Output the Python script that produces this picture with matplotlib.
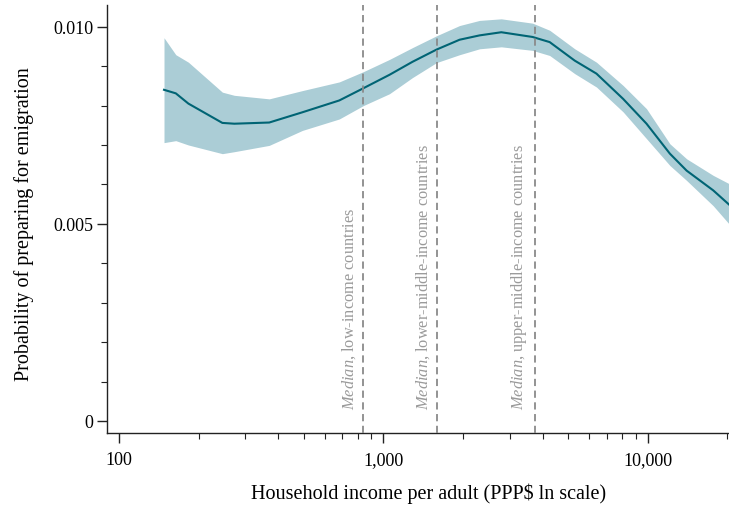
import numpy as np
import matplotlib
matplotlib.use("Agg")
import matplotlib.pyplot as plt
from matplotlib.ticker import FixedLocator, FuncFormatter, NullFormatter

plt.rcParams["font.family"] = ["Liberation Serif", "DejaVu Serif"]
plt.rcParams["mathtext.fontset"] = "custom"
plt.rcParams["mathtext.rm"] = "Liberation Serif"
plt.rcParams["mathtext.it"] = "Liberation Serif:italic"

# Local regression of emigration preparation on household income
income = [148, 164, 183, 246, 273, 370, 494, 681, 840, 1054, 1288, 1588, 1941,
          2310, 2791, 3665, 4253, 5290, 6392, 8062, 9885, 12115, 14015, 17660, 20270]
prob = [0.00840, 0.00831, 0.00805, 0.00756, 0.00754, 0.00757, 0.00783, 0.00813,
        0.00844, 0.00878, 0.00911, 0.00942, 0.00967, 0.00978, 0.00986, 0.00974,
        0.00961, 0.00914, 0.00881, 0.00817, 0.00754, 0.00678, 0.00635, 0.00585,
        0.00549]
upper = [0.00972, 0.00929, 0.00910, 0.00834, 0.00826, 0.00817, 0.00838, 0.00860,
         0.00886, 0.00917, 0.00947, 0.00977, 0.01003, 0.01016, 0.01020, 0.01009,
         0.00991, 0.00944, 0.00910, 0.00851, 0.00792, 0.00703, 0.00665, 0.00623,
         0.00602]
lower = [0.00706, 0.00711, 0.00700, 0.00678, 0.00683, 0.00699, 0.00737, 0.00766,
         0.00800, 0.00830, 0.00871, 0.00909, 0.00929, 0.00944, 0.00949, 0.00940,
         0.00927, 0.00881, 0.00847, 0.00784, 0.00716, 0.00648, 0.00610, 0.00546,
         0.00500]

# Median household income per adult by country income group
median_income = [840, 1597, 3733]
median_groups = ["low-income countries", "lower-middle-income countries",
                 "upper-middle-income countries"]

y_ticks = [0, 0.005, 0.010]
y_tick_labels = ["0", "0.005", "0.010"]
x_ticks = [100, 1000, 10000]
x_tick_labels = ["100", "1,000", "10,000"]

fig = plt.figure(figsize=(7.29, 5.06), dpi=100)
ax = fig.add_axes([0.1468, 0.1423, 0.8532, 0.845])

ax.fill_between(income, lower, upper, color="#abcdd6", linewidth=0, zorder=1)
ax.plot(income, prob, color="#006474", linewidth=1.5, zorder=2)

for xm, grp in zip(median_income, median_groups):
    ax.axvline(xm, color="#8a8a8a", linewidth=1.3, linestyle=(0, (4, 2.5)), zorder=3)
    ax.annotate(r"$\mathit{Median}$, " + grp, xy=(xm, 0.0003), xytext=(-4, 0),
                textcoords="offset points", rotation=90, ha="right", va="bottom",
                color="#9a9a9a", fontsize=11.8)

ax.set_xscale("log")
ax.set_xlim(90.1, 20270)
ax.set_ylim(-0.000305, 0.01054)

ax.xaxis.set_major_locator(FixedLocator(x_ticks))
ax.xaxis.set_major_formatter(FuncFormatter(lambda v, p: x_tick_labels[x_ticks.index(int(round(v)))] if int(round(v)) in x_ticks else ""))
minor_x = [m * d for d in (100, 1000, 10000) for m in range(2, 10)]
ax.xaxis.set_minor_locator(FixedLocator(minor_x))
ax.xaxis.set_minor_formatter(NullFormatter())

ax.yaxis.set_major_locator(FixedLocator(y_ticks))
ax.set_yticklabels(y_tick_labels)
ax.yaxis.set_minor_locator(FixedLocator([i * 0.001 for i in range(0, 11)]))

for s in ("top", "right"):
    ax.spines[s].set_visible(False)
for s in ("left", "bottom"):
    ax.spines[s].set_color("#222222")
    ax.spines[s].set_linewidth(1.0)

ax.tick_params(axis="both", which="major", direction="out", length=7, width=1.0,
               labelsize=13, color="#222222", pad=3)
ax.tick_params(axis="x", which="major", pad=6)
ax.tick_params(axis="both", which="minor", direction="out", length=4, width=0.8,
               color="#222222")

ax.set_xlabel("Household income per adult (PPP$ ln scale)", fontsize=14.5)
ax.set_ylabel("Probability of preparing for emigration", fontsize=14.5)
ax.xaxis.set_label_coords(0.517, -0.115)
ax.yaxis.set_label_coords(-0.118, 0.49)

fig.savefig("out.png", dpi=100)
